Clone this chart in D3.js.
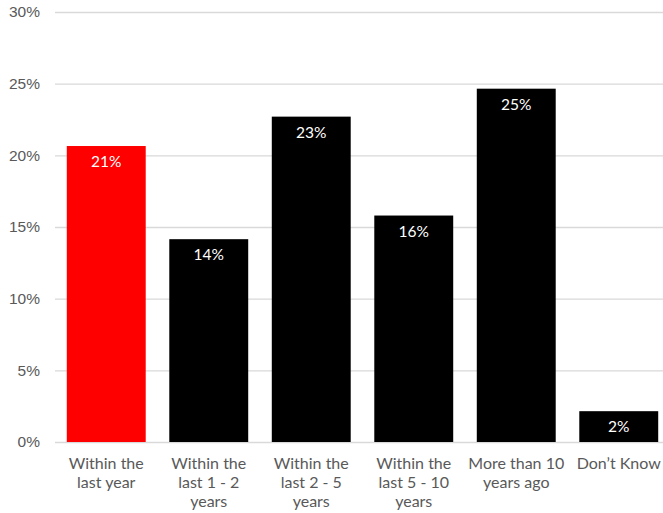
<!DOCTYPE html>
<html>
<head>
<meta charset="utf-8">
<script src="https://cdn.jsdelivr.net/npm/d3@7"></script>
<style>
  body { margin: 0; background: #fff; }
  svg { display: block; font-family: Lato, "Open Sans", sans-serif; }
</style>
</head>
<body>
<div id="chart"></div>
<script>
// Data
const categories = [
  ["Within the", "last year"],
  ["Within the", "last 1 - 2", "years"],
  ["Within the", "last 2 - 5", "years"],
  ["Within the", "last 5 - 10", "years"],
  ["More than 10", "years ago"],
  ["Don\u2019t Know"]
];
const values = [20.65, 14.15, 22.7, 15.8, 24.65, 2.15];
const valueLabels = ["21%", "14%", "23%", "16%", "25%", "2%"];
const barColors = ["#ff0000", "#000000", "#000000", "#000000", "#000000", "#000000"];
const yTicks = [0, 5, 10, 15, 20, 25, 30];

const width = 663;
const height = 513;
const marginTop = 12;
const marginBottom = 71;
const marginLeft = 55;

const data = categories.map((c, i) => ({ lines: c, value: values[i], label: valueLabels[i], color: barColors[i] }));

const x = d3.scaleBand()
  .domain(d3.range(data.length))
  .range([marginLeft, 670])
  .paddingInner(0.23)
  .paddingOuter(0.115);

const y = d3.scaleLinear()
  .domain([0, 30])
  .range([height - marginBottom, marginTop]);

const svg = d3.create("svg")
  .attr("width", width)
  .attr("height", height)
  .attr("viewBox", [0, 0, width, height]);

d3.select("#chart").append(() => svg.node());

// Gridlines and y labels
svg.append("g")
  .attr("transform", `translate(${marginLeft},0)`)
  .call(d3.axisLeft(y).tickValues(yTicks).tickFormat(d => d + "%").tickSize(-(width - marginLeft)).tickPadding(15))
  .call(g => g.select(".domain").remove())
  .call(g => g.selectAll(".tick line").attr("stroke", "#d9d9d9").attr("stroke-width", 1.3))
  .call(g => g.selectAll(".tick text").attr("fill", "#595959").attr("font-size", 15.5));

// Bars
svg.append("g")
  .selectAll()
  .data(data)
  .join("rect")
  .attr("x", (d, i) => x(i))
  .attr("y", d => y(d.value))
  .attr("width", x.bandwidth())
  .attr("height", d => y(0) - y(d.value))
  .attr("fill", d => d.color);

// Value labels inside bars
svg.append("g")
  .selectAll()
  .data(data)
  .join("text")
  .attr("x", (d, i) => x(i) + x.bandwidth() / 2)
  .attr("y", d => y(d.value) + 21)
  .attr("text-anchor", "middle")
  .attr("fill", "#fff")
  .attr("font-size", 15.5)
  .text(d => d.label);

// Category labels
const cat = svg.append("g")
  .selectAll()
  .data(data)
  .join("text")
  .attr("text-anchor", "middle")
  .attr("fill", "#595959")
  .attr("font-size", 16);

cat.each(function(d, i) {
  const t = d3.select(this);
  d.lines.forEach((line, j) => {
    t.append("tspan")
      .attr("x", x(i) + x.bandwidth() / 2)
      .attr("y", y(0) + 27 + j * 19)
      .text(line);
  });
});
</script>
</body>
</html>
